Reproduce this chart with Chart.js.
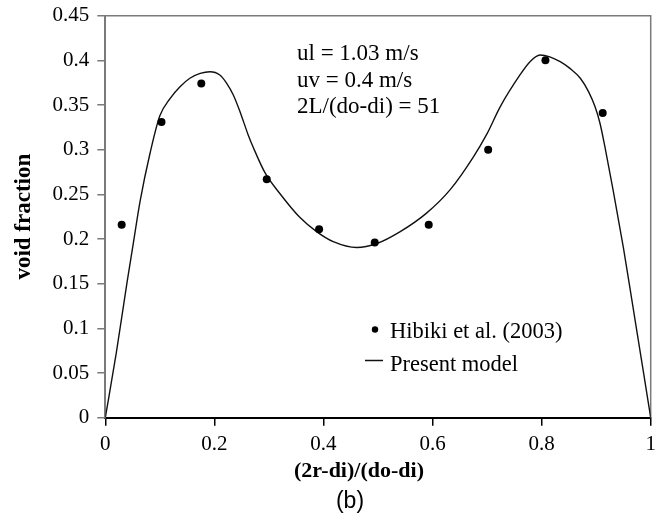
<!DOCTYPE html>
<html>
<head>
<meta charset="utf-8">
<script src="https://cdn.jsdelivr.net/npm/chart.js@4/dist/chart.umd.min.js"></script>
<style>
    html, body { margin: 0; padding: 0; background: #fff; }
    #wrap { width: 666px; height: 522px; position: relative; }
</style>
</head>
<body>
<div id="wrap"><canvas id="voidChart" width="666" height="522"></canvas></div>
<script>
// Measured points, Hibiki et al. (2003)
const expX = [0.030, 0.103, 0.176, 0.296, 0.392, 0.494, 0.593, 0.702, 0.807, 0.912];
const expY = [0.216, 0.331, 0.374, 0.267, 0.211, 0.196, 0.216, 0.300, 0.400, 0.341];

// Present model curve
const modelX = [0, 0.02, 0.04, 0.05, 0.064, 0.082, 0.10, 0.119, 0.137, 0.155, 0.174, 0.192, 0.21, 0.2226, 0.2347, 0.247, 0.262, 0.271, 0.293, 0.32, 0.357, 0.388, 0.418, 0.461, 0.498, 0.54, 0.589, 0.632, 0.675, 0.70, 0.724, 0.76, 0.7787, 0.797, 0.815, 0.834, 0.852, 0.871, 0.886, 0.898, 0.907, 0.916, 0.931, 0.95, 0.968, 0.987, 1.0];
const modelY = [0, 0.072, 0.152, 0.19, 0.243, 0.296, 0.338, 0.3575, 0.3705, 0.380, 0.3855, 0.3873, 0.3836, 0.3743, 0.3613, 0.3426, 0.3165, 0.303, 0.274, 0.251, 0.224, 0.208, 0.197, 0.1905, 0.195, 0.208, 0.229, 0.255, 0.292, 0.318, 0.348, 0.3834, 0.3985, 0.406, 0.404, 0.3985, 0.391, 0.380, 0.365, 0.348, 0.3296, 0.3034, 0.255, 0.19, 0.122, 0.05, 0];

// Axis ticks
const xTickValues = [0, 0.2, 0.4, 0.6, 0.8, 1];
const xTickLabels = ['0', '0.2', '0.4', '0.6', '0.8', '1'];
const yTickValues = [0, 0.05, 0.1, 0.15, 0.2, 0.25, 0.3, 0.35, 0.4, 0.45];
const yTickLabels = ['0', '0.05', '0.1', '0.15', '0.2', '0.25', '0.3', '0.35', '0.4', '0.45'];

// Text in the plot
const notes = ['ul = 1.03 m/s', 'uv = 0.4 m/s', '2L/(do-di) = 51'];
const xTitle = '(2r-di)/(do-di)';
const yTitle = 'void fraction';
const panelLabel = '(b)';

const SERIF = '"Liberation Serif", "Times New Roman", serif';

document.addEventListener('DOMContentLoaded', function() {
    const ctx = document.getElementById('voidChart').getContext('2d');

    // Grey frame on top and right of the plot
    const framePlugin = {
        id: 'frame',
        beforeDatasetsDraw(chart) {
            const { ctx, chartArea: a } = chart;
            ctx.save();
            ctx.strokeStyle = '#7a7a7a';
            ctx.lineWidth = 1.5;
            ctx.beginPath();
            ctx.moveTo(a.left, a.top);
            ctx.lineTo(a.right, a.top);
            ctx.lineTo(a.right, a.bottom);
            ctx.stroke();
            ctx.restore();
        }
    };

    // Notes, inside legend, x title and panel label
    const textPlugin = {
        id: 'texts',
        afterDraw(chart) {
            const c = chart.ctx;
            c.save();
            c.fillStyle = '#000';
            c.textAlign = 'left';
            c.textBaseline = 'alphabetic';

            c.font = '23px ' + SERIF;
            notes.forEach((t, i) => c.fillText(t, 297, 60 + i * 26.5));

            // legend
            const rows = [338, 371];
            chart.data.datasets.forEach((ds, i) => {
                const y = rows[i];
                if (ds.showLine) {
                    c.strokeStyle = ds.borderColor;
                    c.lineWidth = 1.5;
                    c.beginPath();
                    c.moveTo(365, y - 10.5);
                    c.lineTo(383, y - 10.5);
                    c.stroke();
                } else {
                    c.beginPath();
                    c.arc(375, y - 8.5, 3.2, 0, Math.PI * 2);
                    c.fillStyle = ds.backgroundColor;
                    c.fill();
                }
                c.fillStyle = '#000';
                c.font = '22.5px ' + SERIF;
                c.fillText(ds.label, 390, y);
            });

            c.textAlign = 'center';
            c.textBaseline = 'middle';
            c.font = 'bold 22px ' + SERIF;
            c.fillText(xTitle, 359, 471);

            c.font = '23px "Liberation Sans", Arial, sans-serif';
            c.fillText(panelLabel, 350, 502);
            c.restore();
        }
    };

    new Chart(ctx, {
        type: 'scatter',
        data: {
            datasets: [
                {
                    label: 'Hibiki et al. (2003)',
                    data: expX.map((x, i) => ({ x: x, y: expY[i] })),
                    showLine: false,
                    pointRadius: 4,
                    pointBackgroundColor: '#000',
                    pointBorderWidth: 0,
                    backgroundColor: '#000',
                    borderColor: '#000',
                    order: 0
                },
                {
                    label: 'Present model',
                    data: modelX.map((x, i) => ({ x: x, y: modelY[i] })),
                    showLine: true,
                    pointRadius: 0,
                    borderColor: '#111',
                    borderWidth: 1.4,
                    cubicInterpolationMode: 'monotone',
                    fill: false,
                    order: 1
                }
            ]
        },
        options: {
            responsive: false,
            animation: false,
            devicePixelRatio: 1,
            layout: {
                padding: { left: 0, top: 15.7, right: 15.3, bottom: 64.3 }
            },
            plugins: {
                legend: { display: false },
                tooltip: { enabled: false },
                title: { display: false }
            },
            scales: {
                x: {
                    type: 'linear',
                    min: 0,
                    max: 1,
                    afterFit: scale => {
                        scale.height = 40;
                        scale.paddingLeft = 0;
                        scale.paddingRight = 0;
                    },
                    afterBuildTicks: scale => { scale.ticks = xTickValues.map(v => ({ value: v })); },
                    ticks: {
                        color: '#000',
                        padding: 6,
                        maxRotation: 0,
                        font: { family: SERIF, size: 21 },
                        callback: (value, index) => xTickLabels[index]
                    },
                    grid: {
                        drawOnChartArea: false,
                        drawTicks: true,
                        tickLength: 8,
                        color: '#000',
                        lineWidth: 1.5
                    },
                    border: { color: '#000', width: 2 }
                },
                y: {
                    type: 'linear',
                    min: 0,
                    max: 0.45,
                    afterFit: scale => {
                        scale.width = 105.3;
                        scale.paddingTop = 0;
                        scale.paddingBottom = 0;
                    },
                    afterBuildTicks: scale => { scale.ticks = yTickValues.map(v => ({ value: v })); },
                    ticks: {
                        color: '#000',
                        padding: 8,
                        font: { family: SERIF, size: 21 },
                        callback: (value, index) => yTickLabels[index]
                    },
                    grid: {
                        drawOnChartArea: false,
                        drawTicks: true,
                        tickLength: 8,
                        color: '#7a7a7a',
                        lineWidth: 1.5
                    },
                    border: { color: '#7a7a7a', width: 2 },
                    title: {
                        display: true,
                        text: yTitle,
                        color: '#000',
                        padding: { top: 10, bottom: 0 },
                        font: { family: SERIF, size: 23, weight: 'bold' }
                    }
                }
            }
        },
        plugins: [framePlugin, textPlugin]
    });
});
</script>
</body>
</html>
